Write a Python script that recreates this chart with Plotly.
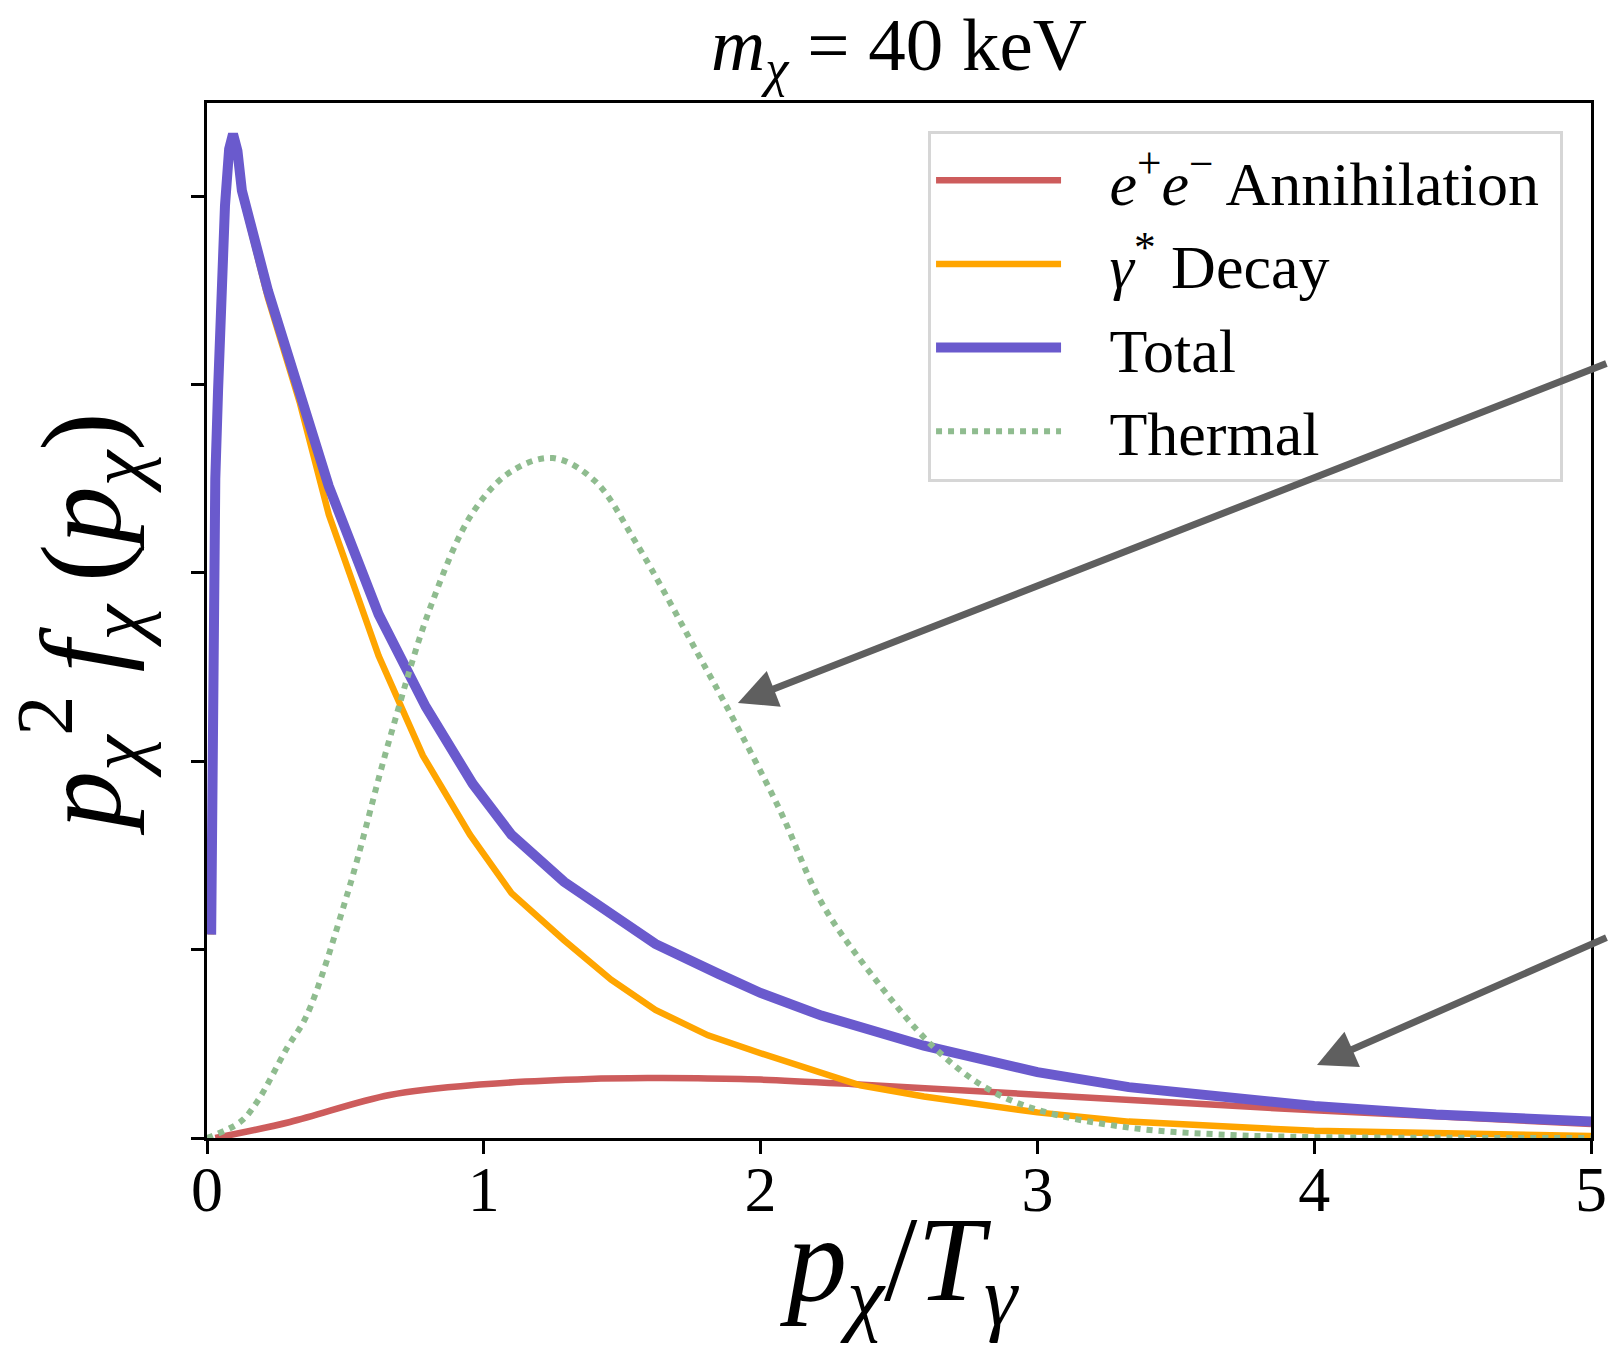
import plotly.graph_objects as go

# ---- data ----
x_total = [0.015, 0.018, 0.022, 0.03, 0.04, 0.05, 0.065, 0.08, 0.094, 0.11, 0.126, 0.22, 0.336, 0.44,
           0.62, 0.79, 0.96, 1.10, 1.29, 1.48, 1.62, 1.85, 2.0, 2.22, 2.59, 3.0, 3.33, 4.0, 4.44, 5.0]
y_total = [1.08, 2.0, 2.8, 3.5, 3.97, 4.5, 4.95, 5.25, 5.33, 5.24, 5.03, 4.5, 3.97, 3.46,
           2.78, 2.29, 1.88, 1.61, 1.36, 1.17, 1.03, 0.87, 0.77, 0.65, 0.49, 0.35, 0.27, 0.17, 0.125, 0.087]

x_decay = [0.015, 0.018, 0.022, 0.03, 0.04, 0.05, 0.065, 0.08, 0.094, 0.11, 0.126, 0.22, 0.336, 0.44,
           0.62, 0.78, 0.95, 1.10, 1.29, 1.46, 1.62, 1.81, 2.0, 2.36, 2.59, 3.0, 3.33, 4.0, 5.0]
y_decay = [1.08, 2.0, 2.8, 3.5, 3.97, 4.5, 4.95, 5.25, 5.33, 5.23, 5.01, 4.46, 3.9, 3.31,
           2.56, 2.03, 1.61, 1.30, 1.05, 0.84, 0.68, 0.545, 0.45, 0.28, 0.22, 0.136, 0.087, 0.038, 0.011]

x_annih = [0.03, 0.30, 0.66, 1.0, 1.38, 1.6, 1.77, 2.0, 2.37, 3.0, 4.0, 5.0]
y_annih = [0.0, 0.085, 0.228, 0.285, 0.313, 0.318, 0.317, 0.31, 0.283, 0.23, 0.147, 0.074]

x_thermal = [0.0, 0.12, 0.18, 0.29, 0.36, 0.51, 0.66, 0.81, 0.96, 1.10, 1.25, 1.40, 1.55, 1.77,
             1.91, 2.07, 2.22, 2.40, 2.62, 2.81, 3.0, 3.33, 3.7, 4.0, 4.5, 5.0]
y_thermal = [0.0, 0.085, 0.19, 0.48, 0.65, 1.31, 2.12, 2.83, 3.32, 3.54, 3.61, 3.49, 3.16, 2.58,
             2.2, 1.74, 1.25, 0.87, 0.49, 0.27, 0.15, 0.055, 0.016, 0.005, 0.001, 0.0]

x_ticks = [0, 1, 2, 3, 4, 5]
x_tick_labels = ["0", "1", "2", "3", "4", "5"]
y_ticks = [0, 1, 2, 3, 4, 5]

names = ["<i>e</i><sup>+</sup><i>e</i><sup>\u2212</sup> Annihilation",
         "<i>\u03b3</i><sup>*</sup> Decay",
         "Total",
         "Thermal"]

x_title = "<i>p</i><sub><i>\u03c7</i></sub>/<i>T</i><sub><i>\u03b3</i></sub>"
y_title = ("<i>p</i><sub><i>\u03c7</i></sub><sup>2</sup>\u2009<i>f</i><sub><i>\u03c7</i></sub>"
           "\u2009(<i>p</i><sub><i>\u03c7</i></sub>)")
main_title = "<i>m</i><sub><i>\u03c7</i></sub> = 40 keV"

# arrow heads (data coords)
arrow_heads_x = [1.918, 4.01]
arrow_heads_y = [2.31, 0.388]

FONT = "Liberation Serif"
GAP = "\u00a0\u00a0\u2009"

fig = go.Figure()
fig.add_trace(go.Scatter(x=x_annih, y=y_annih, mode="lines", name=GAP + names[0] + "\u00a0",
                         line=dict(color="#CD5C5C", width=6.5, shape="spline")))
fig.add_trace(go.Scatter(x=x_decay, y=y_decay, mode="lines", name=GAP + names[1],
                         line=dict(color="#FFA500", width=6.5)))
fig.add_trace(go.Scatter(x=x_total, y=y_total, mode="lines", name=GAP + names[2],
                         line=dict(color="#6A5ACD", width=10)))
fig.add_trace(go.Scatter(x=x_thermal, y=y_thermal, mode="lines", name=GAP + names[3],
                         line=dict(color="#8FBC8F", width=6, dash="dot", shape="spline")))

tails = [(870, -340), (291, -128)]
for hx, hy, (ax, ay) in zip(arrow_heads_x, arrow_heads_y, tails):
    fig.add_annotation(x=hx, y=hy, xref="x", yref="y", text="", showarrow=True,
                       ax=ax, ay=ay, axref="pixel", ayref="pixel",
                       arrowhead=2, arrowsize=1.1, arrowwidth=7, arrowcolor="#5f5f5f")

# x-axis title (placed as an annotation so it can sit as low as in the reference)
fig.add_annotation(x=0.5, y=-0.126, xref="paper", yref="paper", text=x_title,
                   showarrow=False, xanchor="center", yanchor="middle",
                   font=dict(family=FONT, size=120, color="black"))

axis_common = dict(showline=True, linewidth=3, linecolor="black", mirror=True,
                   ticks="outside", ticklen=13, tickwidth=3, tickcolor="black",
                   showgrid=False, zeroline=False, automargin=False)

fig.update_xaxes(range=[0, 5], tickvals=x_ticks, ticktext=x_tick_labels,
                 tickfont=dict(family=FONT, size=64, color="black"), ticklabelstandoff=-20,
                 **axis_common)
fig.update_yaxes(range=[0, 5.495], tickvals=y_ticks, showticklabels=False,
                 title=dict(text=y_title,
                            font=dict(family=FONT, size=115, color="black"), standoff=40),
                 **axis_common)

fig.update_layout(
    width=1608, height=1347,
    margin=dict(l=207, r=17, t=103, b=209, pad=0),
    paper_bgcolor="white", plot_bgcolor="white",
    font=dict(family=FONT, color="black"),
    title=dict(text=main_title, x=0.5, xref="paper",
               y=1 - 44 / 1347, yref="container", xanchor="center", yanchor="middle",
               font=dict(family=FONT, size=75, color="black")),
    legend=dict(x=0.9798, y=0.9734, xanchor="right", yanchor="top",
                bgcolor="white", bordercolor="#d6d6d6", borderwidth=3,
                font=dict(family=FONT, size=62, color="black"),
                itemwidth=125, tracegroupgap=0),
    showlegend=True,
)

fig.write_html("out.html")
